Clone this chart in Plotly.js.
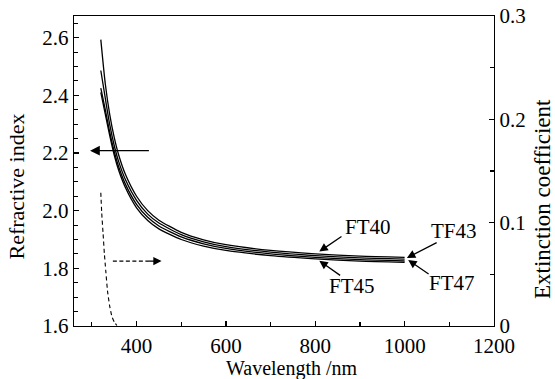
<!DOCTYPE html>
<html>
<head>
<meta charset="utf-8">
<script src="https://cdn.plot.ly/plotly-3.0.1.min.js"></script>
<style>
  html, body { margin: 0; padding: 0; background: #ffffff; }
  #chart { width: 555px; height: 379px; }
</style>
</head>
<body>
<div id="chart"></div>
<script>
// Wavelength sample points (nm) for the refractive-index curves
const wavelength = [320, 330, 340, 350, 360, 375, 400, 425, 450, 500, 550, 600, 700, 800, 900, 1000];
// Refractive index of the four films
const nTF43 = [2.593, 2.440, 2.333, 2.254, 2.193, 2.126, 2.050, 2.000, 1.967, 1.925, 1.899, 1.882, 1.862, 1.850, 1.842, 1.838];
const nFT40 = [2.486, 2.390, 2.298, 2.226, 2.170, 2.108, 2.036, 1.988, 1.957, 1.917, 1.892, 1.875, 1.856, 1.844, 1.836, 1.832];
const nFT45 = [2.425, 2.350, 2.272, 2.205, 2.152, 2.092, 2.022, 1.977, 1.947, 1.909, 1.885, 1.869, 1.850, 1.838, 1.830, 1.826];
const nFT47 = [2.410, 2.335, 2.260, 2.193, 2.140, 2.080, 2.010, 1.966, 1.937, 1.900, 1.877, 1.862, 1.844, 1.833, 1.825, 1.821];
// Extinction coefficient (dashed curve)
const wavelengthK = [320, 322, 325, 328, 331, 335, 340, 345, 350, 356];
const kValues = [0.129, 0.110, 0.090, 0.070, 0.054, 0.034, 0.019, 0.009, 0.004, 0.0005];
// Axis labels and sample labels
const xTickVals = [400, 600, 800, 1000, 1200];
const sampleNames = ["TF43", "FT40", "FT45", "FT47"];

const FONT = "Liberation Serif, Times New Roman, serif";
const solid = { color: "#000", width: 1.3, shape: "spline", smoothing: 0.6 };

const series = [nTF43, nFT40, nFT45, nFT47];
const traces = series.map((ys, i) => ({
  x: wavelength, y: ys, name: sampleNames[i], type: "scatter", mode: "lines",
  line: solid, xaxis: "x", yaxis: "y", hoverinfo: "skip"
}));
traces.push({
  x: wavelengthK, y: kValues, name: "k", type: "scatter", mode: "lines",
  line: { color: "#000", width: 1.1, dash: "4px,3px", shape: "spline", smoothing: 0.6 },
  xaxis: "x", yaxis: "y2", hoverinfo: "skip"
});

function arrow(x, y, ax, ay, extra) {
  return Object.assign({
    x: x, y: y, ax: ax, ay: ay, xref: "x", yref: "y", axref: "x", ayref: "y",
    text: "", showarrow: true, arrowhead: 2, arrowsize: 1.3, arrowwidth: 1.3,
    arrowcolor: "#000", standoff: 0, startstandoff: 0
  }, extra || {});
}
function label(txt, x, y) {
  return { x: x, y: y, xref: "x", yref: "y", text: txt, showarrow: false,
    xanchor: "center", yanchor: "middle", font: { family: FONT, size: 21, color: "#000" } };
}

const titleFont = { family: FONT, size: 22, color: "#000" };
const annotations = [
  // axis titles
  { text: "Refractive index", xref: "paper", yref: "paper", x: -0.138, y: 0.45,
    textangle: -90, showarrow: false, xanchor: "center", yanchor: "middle", font: titleFont },
  { text: "Extinction coefficient", xref: "paper", yref: "paper", x: 1.117, y: 0.41,
    textangle: -90, showarrow: false, xanchor: "center", yanchor: "middle",
    font: { family: FONT, size: 23, color: "#000" } },
  { text: "Wavelength /nm", xref: "paper", yref: "paper", x: 0.518, y: -0.137,
    showarrow: false, xanchor: "center", yanchor: "middle",
    font: { family: FONT, size: 20, color: "#000" } },
  // axis indicator arrows
  arrow(296, 2.208, 431, 2.208, { arrowsize: 1.5 }),
  arrow(456, 1.825, 425, 1.825, { arrowsize: 1.5, arrowwidth: 1.1 }),
  // sample label arrows
  arrow(809, 1.858, 862, 1.914),
  arrow(809, 1.826, 859, 1.772),
  arrow(1005, 1.836, 1075, 1.892),
  arrow(1008, 1.829, 1057, 1.777),
  label("FT40", 917, 1.944),
  label("FT45", 883, 1.737),
  label("TF43", 1110, 1.930),
  label("FT47", 1107, 1.749)
];

const shapes = [
  { type: "line", xref: "x", yref: "y", x0: 347, x1: 430, y0: 1.825, y1: 1.825,
    line: { color: "#000", width: 1.1, dash: "4px,2.5px" } }
];

const tickFont = { family: FONT, size: 21, color: "#000" };

const layout = {
  width: 555, height: 379,
  margin: { l: 74, r: 61, t: 16, b: 53, pad: 0 },
  paper_bgcolor: "#ffffff", plot_bgcolor: "#ffffff",
  showlegend: false,
  xaxis: {
    range: [260, 1200], tickvals: xTickVals, ticks: "inside", ticklen: 5, tickwidth: 1.2,
    tickcolor: "#000", showline: true, linecolor: "#000", linewidth: 1.3, mirror: true,
    showgrid: false, zeroline: false, tickfont: tickFont,
    minor: { tick0: 300, dtick: 100, ticks: "inside", ticklen: 4, tickcolor: "#000", tickwidth: 1.1, showgrid: false }
  },
  yaxis: {
    range: [1.6, 2.675], tick0: 1.6, dtick: 0.2, tickformat: ".1f", ticks: "inside", ticklen: 5,
    tickwidth: 1.2, tickcolor: "#000", showline: true, linecolor: "#000", linewidth: 1.3,
    showgrid: false, zeroline: false, tickfont: tickFont,
    minor: { tick0: 1.6, dtick: 0.05, ticks: "inside", ticklen: 4, tickcolor: "#000", tickwidth: 1.1, showgrid: false }
  },
  yaxis2: {
    range: [0, 0.3], tick0: 0, dtick: 0.1, overlaying: "y", side: "right", ticks: "inside",
    ticklen: 5, tickwidth: 1.2, tickcolor: "#000", showline: true, linecolor: "#000", linewidth: 1.3,
    showgrid: false, zeroline: false, tickfont: tickFont,
    minor: { tick0: 0, dtick: 0.05, ticks: "inside", ticklen: 4, tickcolor: "#000", tickwidth: 1.1, showgrid: false }
  },
  annotations: annotations,
  shapes: shapes
};

Plotly.newPlot("chart", traces, layout, { staticPlot: true, displayModeBar: false });
</script>
</body>
</html>
